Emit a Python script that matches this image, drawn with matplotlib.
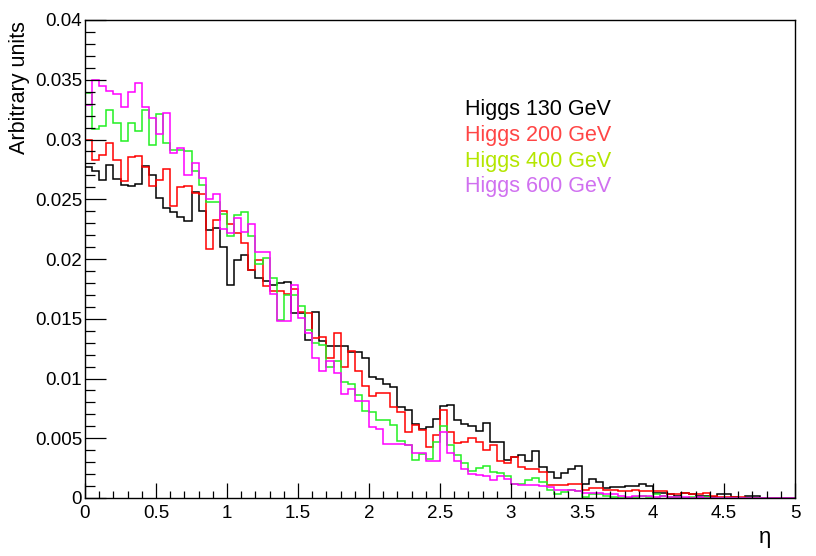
import numpy as np
import matplotlib
matplotlib.use("Agg")
import matplotlib.pyplot as plt
from matplotlib.ticker import MultipleLocator, FuncFormatter

plt.rcParams['font.family'] = ['Liberation Sans', 'DejaVu Sans']

edges = np.linspace(0.0, 5.0, 101)

labels = ["Higgs 130 GeV", "Higgs 200 GeV", "Higgs 400 GeV", "Higgs 600 GeV"]

h130 = [0.0277, 0.0274, 0.0266, 0.0279, 0.0267, 0.0262, 0.0261, 0.0263, 0.0278, 0.0270,
        0.0251, 0.0243, 0.0239, 0.0235, 0.0232, 0.0256, 0.0240, 0.0224, 0.0226, 0.0210,
        0.0178, 0.0199, 0.0203, 0.0191, 0.0184, 0.0182, 0.0178, 0.0180, 0.0181, 0.0155,
        0.0155, 0.0132, 0.0156, 0.0131, 0.0127, 0.0127, 0.0127, 0.0122, 0.0122, 0.0117,
        0.0101, 0.0100, 0.0095, 0.0093, 0.0076, 0.0074, 0.0062, 0.0058, 0.0059, 0.0066,
        0.0077, 0.0078, 0.0065, 0.0062, 0.0060, 0.0056, 0.0063, 0.0047, 0.0047, 0.0032,
        0.0034, 0.0036, 0.0031, 0.0039, 0.0026, 0.0022, 0.0017, 0.0021, 0.0024, 0.0027,
        0.0012, 0.0016, 0.0013, 0.0008, 0.0009, 0.0009, 0.0010, 0.0010, 0.0012, 0.0010,
        0.0004, 0.0004, 0.0003, 0.0002, 0.0004, 0.0003, 0.0002, 0.0002, 0.0001, 0.0003,
        0.0003, 0.0001, 0.0000, 0.0002, 0.0002, 0.0000, 0.0000, 0.0000, 0.0000, 0.0000]

h200 = [0.0300, 0.0283, 0.0287, 0.0297, 0.0283, 0.0265, 0.0285, 0.0286, 0.0277, 0.0261,
        0.0266, 0.0275, 0.0244, 0.0260, 0.0261, 0.0255, 0.0254, 0.0208, 0.0233, 0.0240,
        0.0229, 0.0222, 0.0213, 0.0191, 0.0199, 0.0177, 0.0173, 0.0173, 0.0171, 0.0175,
        0.0156, 0.0155, 0.0134, 0.0135, 0.0117, 0.0138, 0.0110, 0.0123, 0.0106, 0.0094,
        0.0085, 0.0088, 0.0088, 0.0076, 0.0072, 0.0055, 0.0061, 0.0057, 0.0043, 0.0053,
        0.0074, 0.0055, 0.0046, 0.0047, 0.0050, 0.0047, 0.0040, 0.0044, 0.0031, 0.0029,
        0.0034, 0.0026, 0.0024, 0.0024, 0.0022, 0.0011, 0.0011, 0.0011, 0.0012, 0.0012,
        0.0007, 0.0008, 0.0008, 0.0007, 0.0007, 0.0006, 0.0006, 0.0007, 0.0006, 0.0006,
        0.0006, 0.0006, 0.0003, 0.0003, 0.0004, 0.0003, 0.0003, 0.0004, 0.0002, 0.0001,
        0.0001, 0.0001, 0.0001, 0.0000, 0.0000, 0.0000, 0.0000, 0.0000, 0.0000, 0.0000]

h400 = [0.0339, 0.0309, 0.0311, 0.0325, 0.0314, 0.0299, 0.0314, 0.0307, 0.0325, 0.0295,
        0.0321, 0.0297, 0.0291, 0.0291, 0.0290, 0.0274, 0.0262, 0.0248, 0.0248, 0.0238,
        0.0219, 0.0237, 0.0239, 0.0219, 0.0196, 0.0201, 0.0184, 0.0149, 0.0170, 0.0170,
        0.0161, 0.0141, 0.0130, 0.0128, 0.0110, 0.0115, 0.0097, 0.0095, 0.0086, 0.0073,
        0.0072, 0.0065, 0.0065, 0.0061, 0.0048, 0.0044, 0.0032, 0.0037, 0.0033, 0.0047,
        0.0060, 0.0044, 0.0036, 0.0029, 0.0023, 0.0025, 0.0027, 0.0022, 0.0021, 0.0018,
        0.0012, 0.0012, 0.0015, 0.0017, 0.0013, 0.0007, 0.0003, 0.0005, 0.0007, 0.0006,
        0.0001, 0.0003, 0.0003, 0.0002, 0.0001, 0.0000, 0.0000, 0.0001, 0.0002, 0.0001,
        0.0003, 0.0002, 0.0001, 0.0001, 0.0000, 0.0001, 0.0000, 0.0001, 0.0000, 0.0000,
        0.0000, 0.0000, 0.0000, 0.0000, 0.0000, 0.0000, 0.0000, 0.0000, 0.0000, 0.0000]

h600 = [0.0329, 0.0350, 0.0345, 0.0341, 0.0338, 0.0327, 0.0340, 0.0347, 0.0327, 0.0318,
        0.0305, 0.0322, 0.0289, 0.0293, 0.0270, 0.0280, 0.0268, 0.0250, 0.0254, 0.0225,
        0.0222, 0.0234, 0.0223, 0.0229, 0.0206, 0.0206, 0.0171, 0.0148, 0.0148, 0.0178,
        0.0151, 0.0138, 0.0117, 0.0106, 0.0115, 0.0105, 0.0087, 0.0091, 0.0081, 0.0081,
        0.0059, 0.0058, 0.0045, 0.0045, 0.0045, 0.0044, 0.0038, 0.0038, 0.0031, 0.0031,
        0.0055, 0.0038, 0.0031, 0.0024, 0.0020, 0.0019, 0.0018, 0.0015, 0.0018, 0.0016,
        0.0012, 0.0011, 0.0011, 0.0011, 0.0010, 0.0009, 0.0007, 0.0007, 0.0007, 0.0006,
        0.0004, 0.0004, 0.0004, 0.0003, 0.0003, 0.0002, 0.0001, 0.0002, 0.0002, 0.0002,
        0.0001, 0.0002, 0.0001, 0.0001, 0.0001, 0.0000, 0.0001, 0.0000, 0.0000, 0.0000,
        0.0000, 0.0000, 0.0000, 0.0000, 0.0000, 0.0000, 0.0000, 0.0000, 0.0000, 0.0000]

series = [h130, h200, h400, h600]
line_colors = ['#000000', '#ff0000', '#22f022', '#ff00ff']
text_colors = ['#000000', '#ff4545', '#b4e600', '#d070f0']

W, H = 816, 556
fig = plt.figure(figsize=(W / 100, H / 100), dpi=100)
ax = fig.add_axes([85 / W, 58 / H, 710 / W, 478 / H])

for vals, col in zip(series, line_colors):
    ax.stairs(vals, edges, color=col, linewidth=1.1, baseline=None)

ax.set_xlim(0, 5)
ax.set_ylim(0, 0.04)

ax.xaxis.set_major_locator(MultipleLocator(0.5))
ax.xaxis.set_minor_locator(MultipleLocator(0.1))
ax.yaxis.set_major_locator(MultipleLocator(0.005))
ax.yaxis.set_minor_locator(MultipleLocator(0.001))

fmt = FuncFormatter(lambda v, p: ('%g' % round(v, 4)))
ax.xaxis.set_major_formatter(fmt)
ax.yaxis.set_major_formatter(fmt)

ax.tick_params(axis='x', which='major', direction='in', length=10.8, width=0.9, pad=5, labelsize=13.5)
ax.tick_params(axis='x', which='minor', direction='in', length=5.4, width=0.9)
ax.tick_params(axis='y', which='major', direction='in', length=15, width=0.9, pad=2, labelsize=13.5)
ax.tick_params(axis='y', which='minor', direction='in', length=7.5, width=0.9)
ax.tick_params(top=False, right=False, which='both')

for s in ax.spines.values():
    s.set_linewidth(1.0)

fig.text(20 / W, 1 - 21 / H, 'Arbitrary units', rotation=90, ha='center', va='top', fontsize=15.5)
fig.text(765 / W, 1 - 538 / H, 'η', ha='center', va='center', fontsize=16)

for i, (lab, tc) in enumerate(zip(labels, text_colors)):
    fig.text(465 / W, 1 - (110 + 25.5 * i) / H, lab, color=tc, ha='left', va='center', fontsize=15.5)

fig.savefig('out.png', dpi=100)
